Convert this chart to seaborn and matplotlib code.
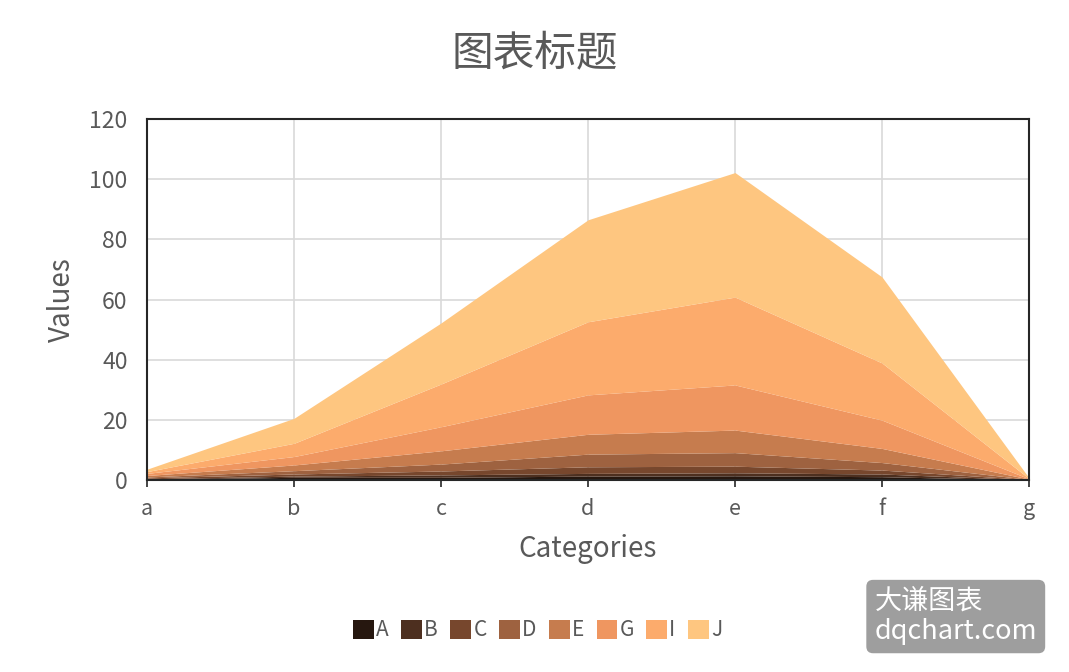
import matplotlib
matplotlib.use("Agg")
import matplotlib.pyplot as plt
import seaborn as sns
import pandas as pd

# data
categories = ["a", "b", "c", "d", "e", "f", "g"]
series_names = ["A", "B", "C", "D", "E", "G", "I", "J"]
A = [0.2, 0.9, 0.9, 1.3, 1.4, 1.1, 0.05]
B = [0.2, 0.4, 0.8, 0.9, 1.0, 0.9, 0.05]
C = [0.3, 0.7, 1.3, 2.2, 2.2, 1.3, 0.05]
D = [0.3, 1.1, 2.3, 4.2, 4.5, 2.5, 0.05]
E = [0.5, 1.9, 4.4, 6.6, 7.5, 4.7, 0.1]
G = [0.7, 2.8, 8.0, 13.1, 15.0, 9.4, 0.1]
I = [0.6, 4.4, 14.2, 24.3, 29.2, 19.0, 0.1]
J = [0.8, 8.3, 20.3, 33.9, 41.4, 28.6, 0.2]
y_ticks = [0, 20, 40, 60, 80, 100, 120]

palette = ["#26170f", "#4d2f1f", "#77472d", "#9e6240",
           "#c67c4e", "#ef9660", "#fcab6c", "#fec680"]

sns.set_theme(style="white")
plt.rcParams["font.family"] = ["Noto Sans CJK SC", "DejaVu Sans"]
plt.rcParams["font.weight"] = "light"
grey = "#595959"

df = pd.DataFrame({"A": A, "B": B, "C": C, "D": D, "E": E, "G": G, "I": I, "J": J},
                  index=categories)

fig = plt.figure(figsize=(10.69, 6.72), dpi=100)
ax = fig.add_axes([0.1375, 0.2857, 0.8251, 0.5372])

x = list(range(len(categories)))
ax.stackplot(x, [df[c] for c in series_names], labels=series_names,
             colors=palette, linewidth=0, zorder=2)

# axes formatting
ax.set_xlim(0, len(categories) - 1)
ax.set_ylim(0, 120)
ax.set_xticks(x)
ax.set_xticklabels(categories)
ax.set_yticks(y_ticks)
ax.grid(True, color="#d9d9d9", linewidth=1.2, zorder=0)
ax.set_axisbelow(True)
for sp in ax.spines.values():
    sp.set_color("#262626")
    sp.set_linewidth(1.5)
ax.tick_params(axis="x", bottom=True, length=5, width=1.2, color="#262626",
               labelsize=15.5, labelcolor=grey, pad=8)
ax.tick_params(axis="y", left=False, labelsize=16.5, labelcolor=grey, pad=8)

ax.set_xlabel("Categories", fontsize=20, color=grey, labelpad=10)
ax.set_ylabel("Values", fontsize=20, color=grey, labelpad=9)
fig.suptitle("图表标题", fontsize=30, color=grey, y=0.95)

# legend
handles, labels = ax.get_legend_handles_labels()
leg = fig.legend(handles, labels, loc="center", bbox_to_anchor=(0.503, 0.062),
                 ncol=8, frameon=False, fontsize=15, handlelength=1.0,
                 handleheight=1.0, handletextpad=0.1, columnspacing=0.6)
for t in leg.get_texts():
    t.set_color(grey)

# watermark
fig.text(0.818, 0.04, "大谦图表\ndqchart.com", fontsize=19.5, color="white",
         ha="left", va="bottom", linespacing=1.15,
         bbox=dict(boxstyle="round,pad=0.3,rounding_size=0.25",
                   facecolor="#9e9e9e", edgecolor="none"))

fig.savefig("out.png", dpi=100)
